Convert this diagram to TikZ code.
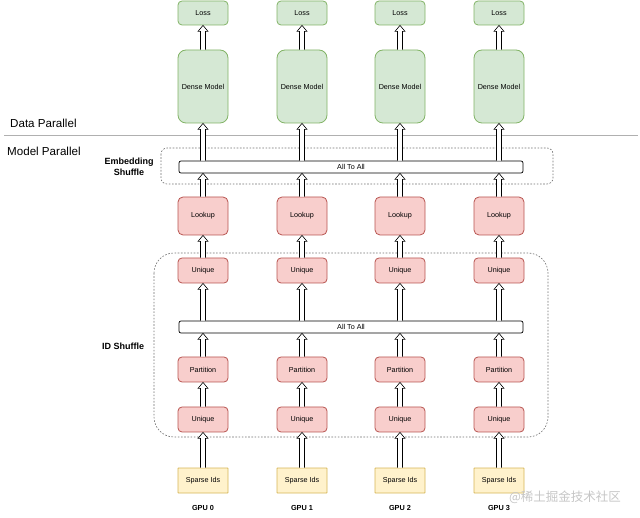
\documentclass[tikz,border=0pt]{standalone}
\usepackage{fontspec}
\setmainfont{Liberation Sans}
\newfontfamily\cjk{Noto Sans CJK SC}
\usetikzlibrary{calc}
\definecolor{gfill}{HTML}{D5E8D4}
\definecolor{gline}{HTML}{82B366}
\definecolor{rfill}{HTML}{F8CECC}
\definecolor{rline}{HTML}{B85450}
\definecolor{yfill}{HTML}{FFF2CC}
\definecolor{yline}{HTML}{D6B656}
\definecolor{sepgray}{HTML}{B0B0B0}
\definecolor{dashgray}{HTML}{707070}
\begin{document}
\begin{tikzpicture}[x=1pt,y=-1pt,
  lbl/.style={font=\fontsize{7.2}{8}\selectfont},
  box/.style={lbl, draw, line width=0.8pt, rounded corners=4pt, minimum width=50pt, inner sep=0pt},
  gbox/.style={box, fill=gfill, draw=gline},
  rbox/.style={box, fill=rfill, draw=rline, minimum height=25pt},
  ybox/.style={box, fill=yfill, draw=yline, minimum height=25pt, rounded corners=0.5pt},
  bar/.style={lbl, draw, line width=0.7pt, fill=white, rounded corners=2pt, minimum width=344pt, minimum height=12pt, inner sep=0pt},
  group/.style={draw=dashgray, line width=0.6pt, dash pattern=on 1.6pt off 1.6pt},
  section/.style={font=\fontsize{11.6}{13}\selectfont, anchor=west, inner sep=0pt},
  grouplbl/.style={font=\bfseries\fontsize{9}{11}\selectfont, align=center, inner sep=0pt},
  gpulbl/.style={font=\bfseries\fontsize{7.3}{8}\selectfont, inner sep=0pt},
  blockarr/.style={draw=black, fill=white, line width=0.6pt, line join=miter,
    to path={let \p1=(\tikztostart), \p2=(\tikztotarget) in
      (\x1-2.5pt,\y1) -- (\x1-2.5pt,\y2-6pt) -- (\x1-5pt,\y2-6pt) -- (\x1,\y2)
      -- (\x1+5pt,\y2-6pt) -- (\x1+2.5pt,\y2-6pt) -- (\x1+2.5pt,\y1)}}
]
\useasboundingbox (0,0) rectangle (640,518);

% separator and section labels
\coordinate (sepL) at (4,135);
\coordinate (sepR) at (638,135);
\draw[sepgray, line width=0.8pt] (sepL) -- (sepR);
\node[section] (dp) at (10,123) {Data Parallel};
\node[section] (mp) at (7,151) {Model Parallel};

% dashed groups
\draw[group, rounded corners=6pt] (161,148) rectangle (553,184);
\draw[group, rounded corners=20pt] (154,253) rectangle (548,437);
\node[grouplbl] (es) at (129,167) {Embedding\\Shuffle};
\node[grouplbl, anchor=west] (ids) at (102,346) {ID Shuffle};

% all to all bars
\node[bar] (a2a1) at (351,167) {All To All};
\node[bar] (a2a2) at (351,327) {All To All};

\foreach \i/\x in {0/203,1/302,2/400,3/499} {
  \node[gbox, minimum height=24pt] (loss\i) at (\x,13) {Loss};
  \node[gbox, minimum height=73pt, rounded corners=8pt] (dense\i) at (\x,86.5) {Dense Model};
  \node[rbox, minimum height=38pt, rounded corners=5pt] (look\i) at (\x,216) {Lookup};
  \node[rbox] (uniqa\i) at (\x,270.5) {Unique};
  \node[rbox] (part\i) at (\x,369.5) {Partition};
  \node[rbox] (uniqb\i) at (\x,419.5) {Unique};
  \node[ybox] (sparse\i) at (\x,480.5) {Sparse Ids};
  \node[gpulbl] (gpu\i) at (\x,508) {GPU \i};

  \draw[blockarr] (dense\i.north) to (loss\i.south);
  \draw[blockarr] (dense\i.south |- a2a1.north) to (dense\i.south);
  \draw[blockarr] (look\i.north) to (look\i.north |- a2a1.south);
  \draw[blockarr] (uniqa\i.north) to (look\i.south);
  \draw[blockarr] (uniqa\i.south |- a2a2.north) to (uniqa\i.south);
  \draw[blockarr] (part\i.north) to (part\i.north |- a2a2.south);
  \draw[blockarr] (uniqb\i.north) to (part\i.south);
  \draw[blockarr] (sparse\i.north) to (uniqb\i.south);
}

% watermark
\node[font=\cjk\fontsize{12.5}{14}\selectfont, text=gray!45, inner sep=0pt] (wm) at (565,497) {@稀土掘金技术社区};
\end{tikzpicture}
\end{document}
